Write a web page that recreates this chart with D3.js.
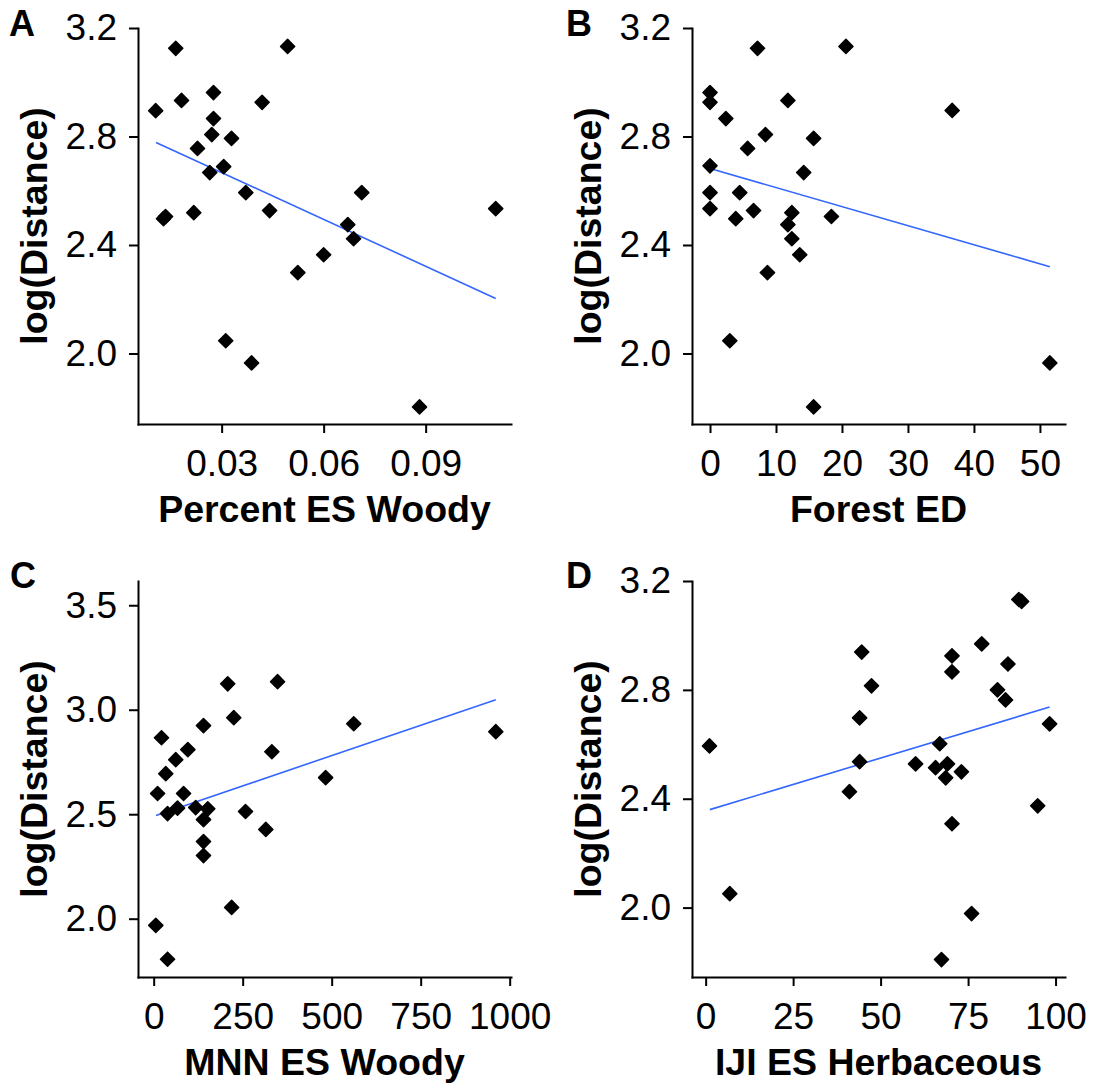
<!DOCTYPE html>
<html>
<head>
<meta charset="utf-8">
<script src="https://cdn.jsdelivr.net/npm/d3@7"></script>
<style>
body{margin:0;background:#fff;}
svg text{font-family:"Liberation Sans",Arial,sans-serif;fill:#000;}
.axis path,.axis line{stroke:#000;stroke-width:2px;}
.axis text{font-size:37px;font-family:"Liberation Sans",Arial,sans-serif;}
.title{font-size:37.5px;font-weight:bold;}
.letter{font-size:36px;font-weight:bold;}
.fit{fill:none;stroke:#3366ff;stroke-width:1.6px;}
</style>
</head>
<body>
<div id="chart"></div>
<script>
'use strict';
// observed points, one pair of arrays per panel (x value, log(Distance))
var woodyPct = [0.0165,0.0494,0.0106,0.0182,0.0276,0.0419,0.0276,0.0271,0.0329,0.0229,0.0306,0.0265,0.0371,0.0712,0.0441,0.0218,0.0135,0.0129,0.1106,0.0671,0.0688,0.0600,0.0524,0.0312,0.0388,0.0882];
var woodyPctY = [3.125,3.132,2.895,2.933,2.962,2.926,2.866,2.807,2.793,2.756,2.689,2.667,2.593,2.593,2.527,2.519,2.505,2.497,2.534,2.475,2.423,2.364,2.298,2.047,1.965,1.803];

var forestED = [7.2,20.6,0,0,11.8,36.7,2.4,8.4,15.7,5.7,0,14.2,0,4.5,0,6.6,3.9,12.4,18.4,11.8,12.4,13.6,8.7,3.0,51.5,15.7];
var forestEDY = [3.125,3.132,2.962,2.926,2.933,2.896,2.866,2.807,2.793,2.756,2.692,2.667,2.593,2.593,2.534,2.527,2.497,2.519,2.505,2.475,2.423,2.364,2.298,2.047,1.965,1.803];

var mnnWoody = [208,348,225,140,562,961,22,96,332,62,34,483,11,84,67,39,118,152,258,140,315,140,140,219,6,39];
var mnnWoodyY = [3.124,3.134,2.962,2.924,2.933,2.895,2.866,2.809,2.799,2.761,2.694,2.675,2.599,2.599,2.529,2.503,2.532,2.526,2.513,2.474,2.427,2.369,2.302,2.054,1.968,1.806];

var ijiHerb = [89.5,90.3,78.9,44.6,70.4,86.4,70.4,47.4,83.4,85.7,44.0,98.3,1.1,66.9,44.0,60.0,69.1,65.7,73.1,68.6,41.1,94.9,70.4,6.9,76.0,67.4];
var ijiHerbY = [3.132,3.125,2.969,2.939,2.925,2.895,2.866,2.815,2.800,2.763,2.697,2.675,2.594,2.602,2.536,2.528,2.528,2.514,2.499,2.477,2.426,2.374,2.308,2.051,1.978,1.809];

// fitted lines (end points)
var fitWoodyPct = [[0.0107,2.778],[0.1106,2.203]];
var fitForestED = [[0,2.682],[51.5,2.320]];
var fitMnnWoody = [[6.5,2.494],[961,3.048]];
var fitIjiHerb = [[1.2,2.360],[98.3,2.737]];

// tick labels
var ticksWoodyPct = [0.03,0.06,0.09];
var ticksForestED = [0,10,20,30,40,50];
var ticksMnnWoody = [0,250,500,750,1000];
var ticksIjiHerb = [0,25,50,75,100];
var ticksY32 = [2.0,2.4,2.8,3.2];
var ticksY35 = [2.0,2.5,3.0,3.5];

var panels = [
    {letter:"A", xs:woodyPct, ys:woodyPctY, fit:fitWoodyPct, xt:ticksWoodyPct, yt:ticksY32, fmtX:d3.format(".2f"), fmtY:d3.format(".1f"),
     xdom:[0.0054,0.1151], ydom:[1.74,3.2], title:"Percent ES Woody", left:138, right:511, top:28, bottom:424, lx:9, ly:36},
    {letter:"B", xs:forestED, ys:forestEDY, fit:fitForestED, xt:ticksForestED, yt:ticksY32, fmtX:d3.format("d"), fmtY:d3.format(".1f"),
     xdom:[-2.73,53.8], ydom:[1.74,3.2], title:"Forest ED", left:692, right:1065, top:28, bottom:424, lx:566, ly:36},
    {letter:"C", xs:mnnWoody, ys:mnnWoodyY, fit:fitMnnWoody, xt:ticksMnnWoody, yt:ticksY35, fmtX:d3.format("d"), fmtY:d3.format(".1f"),
     xdom:[-44,1003.7], ydom:[1.721,3.616], title:"MNN ES Woody", left:138, right:511, top:581, bottom:977, lx:10, ly:588},
    {letter:"D", xs:ijiHerb, ys:ijiHerbY, fit:fitIjiHerb, xt:ticksIjiHerb, yt:ticksY32, fmtX:d3.format("d"), fmtY:d3.format(".1f"),
     xdom:[-3.9,102.7], ydom:[1.745,3.2], title:"IJI ES Herbaceous", left:692, right:1065, top:581, bottom:977, lx:566, ly:588}
];

var svg = d3.select("#chart").append("svg")
    .attr("width",1094)
    .attr("height",1087);

// filled diamond marker
var diamond = {
    draw:function(ctx,size){
        var r = Math.sqrt(size/2);
        ctx.moveTo(0,-r);
        ctx.lineTo(r,0);
        ctx.lineTo(0,r);
        ctx.lineTo(-r,0);
        ctx.closePath();
    }
};
var marker = d3.symbol().type(diamond).size(100);

panels.forEach(function(p){
    var x = d3.scaleLinear().domain(p.xdom).range([p.left,p.right]);
    var y = d3.scaleLinear().domain(p.ydom).range([p.bottom,p.top]);

    var g = svg.append("g");

    // axes
    g.append("g")
        .attr("class","axis")
        .attr("transform","translate(0,"+p.bottom+")")
        .call(d3.axisBottom(x).tickValues(p.xt).tickFormat(p.fmtX).tickSize(9).tickSizeOuter(0).tickPadding(17));
    g.append("g")
        .attr("class","axis")
        .attr("transform","translate("+p.left+",0)")
        .call(d3.axisLeft(y).tickValues(p.yt).tickFormat(p.fmtY).tickSize(9).tickSizeOuter(0).tickPadding(12));
    g.selectAll(".axis text").attr("fill","#000");
    g.selectAll(".axis .domain").attr("stroke-linecap","square");

    // fitted line
    var line = d3.line()
        .x(function(d){ return x(d[0]); })
        .y(function(d){ return y(d[1]); });
    g.append("path")
        .datum(p.fit)
        .attr("class","fit")
        .attr("d",line);

    // points
    g.selectAll(".pt")
        .data(p.xs)
        .enter().append("path")
        .attr("class","pt")
        .attr("transform",function(d,i){ return "translate("+x(d)+","+y(p.ys[i])+")"; })
        .attr("d",marker)
        .attr("fill","#000")
        .attr("stroke","#000")
        .attr("stroke-width",1.5)
        .attr("stroke-linejoin","round");

    // titles
    g.append("text")
        .attr("class","title")
        .attr("x",(p.left+p.right)/2)
        .attr("y",p.bottom+98)
        .attr("text-anchor","middle")
        .text(p.title);
    g.append("text")
        .attr("class","title")
        .attr("transform","translate("+(p.left-91)+","+((p.top+p.bottom)/2)+") rotate(-90)")
        .attr("text-anchor","middle")
        .text("log(Distance)");
    g.append("text")
        .attr("class","letter")
        .attr("x",p.lx)
        .attr("y",p.ly)
        .text(p.letter);
});
</script>
</body>
</html>
